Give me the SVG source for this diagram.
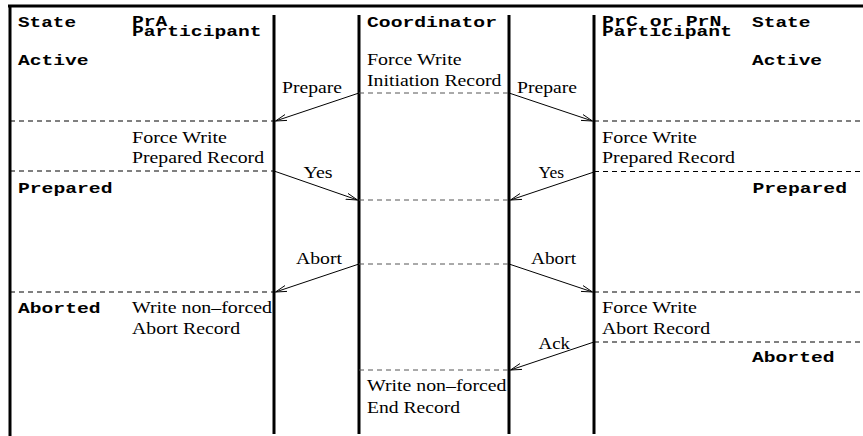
<svg xmlns="http://www.w3.org/2000/svg" width="863" height="436" viewBox="0 0 863 436">
  <style>
    .frame { stroke: #000; stroke-width: 3; fill: none; }
    .life { stroke: #000; stroke-width: 3; fill: none; }
    .dash { stroke: #000; stroke-width: 1; stroke-dasharray: 5 4; fill: none; }
    .dash.coord { stroke: #555; }
    .msg { stroke: #000; stroke-width: 1; fill: none; marker-end: url(#open); }
    .mono { font-weight: bold; font-size: 14px; fill: #000; }
    .serif { font-size: 16px; fill: #000; }
  </style>
  <defs>
    <marker id="open" viewBox="0 0 12 8" refX="11.5" refY="4" markerWidth="12" markerHeight="8" markerUnits="userSpaceOnUse" orient="auto">
      <path d="M0,0.8 L11.5,4 L0,7.2" fill="none" stroke="#000" stroke-width="0.9"/>
    </marker>
  </defs>

  <!-- outer frame: top rule and left edge -->
  <g id="frame">
    <line class="frame" x1="8" y1="6" x2="863" y2="6"/>
    <line class="frame" x1="10" y1="5" x2="10" y2="436"/>
  </g>

  <!-- state column, left -->
  <g id="state-left" font-family="'Liberation Mono', 'Courier New', monospace">
    <text class="mono" x="18" y="26.5" textLength="58" lengthAdjust="spacingAndGlyphs">State</text>
    <text class="mono" x="18" y="64.5" textLength="70.5" lengthAdjust="spacingAndGlyphs">Active</text>
    <text class="mono" x="18" y="193" textLength="94.5" lengthAdjust="spacingAndGlyphs">Prepared</text>
    <text class="mono" x="18" y="313" textLength="82.5" lengthAdjust="spacingAndGlyphs">Aborted</text>
  </g>

  <!-- PrA participant -->
  <g id="pra-participant">
    <g font-family="'Liberation Mono', 'Courier New', monospace">
      <text class="mono" x="132" y="26" textLength="35.4" lengthAdjust="spacingAndGlyphs">PrA</text>
      <text class="mono" x="132" y="36" textLength="129.5" lengthAdjust="spacingAndGlyphs">Participant</text>
    </g>
    <line class="life" x1="274" y1="15" x2="274" y2="434"/>
    <g font-family="'Liberation Serif', 'Times New Roman', serif">
      <text class="serif" x="132" y="143" textLength="95" lengthAdjust="spacingAndGlyphs">Force Write</text>
      <text class="serif" x="132" y="163" textLength="132" lengthAdjust="spacingAndGlyphs">Prepared Record</text>
      <text class="serif" x="132" y="313" textLength="140" lengthAdjust="spacingAndGlyphs">Write non–forced</text>
      <text class="serif" x="132" y="333.5" textLength="108" lengthAdjust="spacingAndGlyphs">Abort Record</text>
    </g>
    <line class="dash" x1="10" y1="121" x2="274" y2="121"/>
    <line class="dash" x1="10" y1="171" x2="274" y2="171"/>
    <line class="dash" x1="10" y1="292" x2="274" y2="292"/>
  </g>

  <!-- Coordinator -->
  <g id="coordinator">
    <text class="mono" font-family="'Liberation Mono', 'Courier New', monospace" x="367" y="26.5" textLength="130" lengthAdjust="spacingAndGlyphs">Coordinator</text>
    <line class="life" x1="359" y1="15" x2="359" y2="434"/>
    <line class="life" x1="509" y1="15" x2="509" y2="434"/>
    <g font-family="'Liberation Serif', 'Times New Roman', serif">
      <text class="serif" x="367" y="64.5" textLength="94.5" lengthAdjust="spacingAndGlyphs">Force Write</text>
      <text class="serif" x="367" y="85.5" textLength="134.5" lengthAdjust="spacingAndGlyphs">Initiation Record</text>
      <text class="serif" x="367" y="390.5" textLength="139.5" lengthAdjust="spacingAndGlyphs">Write non–forced</text>
      <text class="serif" x="367" y="412.5" textLength="93" lengthAdjust="spacingAndGlyphs">End Record</text>
    </g>
    <line class="dash coord" x1="359" y1="93" x2="509" y2="93"/>
    <line class="dash coord" x1="359" y1="200" x2="509" y2="200"/>
    <line class="dash coord" x1="359" y1="264" x2="509" y2="264"/>
    <line class="dash coord" x1="359" y1="370" x2="509" y2="370"/>
  </g>

  <!-- PrC or PrN participant -->
  <g id="prc-prn-participant">
    <g font-family="'Liberation Mono', 'Courier New', monospace">
      <text class="mono" x="602" y="26" textLength="119.5" lengthAdjust="spacingAndGlyphs">PrC or PrN</text>
      <text class="mono" x="602" y="36" textLength="130" lengthAdjust="spacingAndGlyphs">Participant</text>
    </g>
    <line class="life" x1="594" y1="15" x2="594" y2="434"/>
    <g font-family="'Liberation Serif', 'Times New Roman', serif">
      <text class="serif" x="602" y="143" textLength="95" lengthAdjust="spacingAndGlyphs">Force Write</text>
      <text class="serif" x="602" y="163" textLength="133" lengthAdjust="spacingAndGlyphs">Prepared Record</text>
      <text class="serif" x="602" y="313" textLength="95" lengthAdjust="spacingAndGlyphs">Force Write</text>
      <text class="serif" x="602" y="333.5" textLength="108" lengthAdjust="spacingAndGlyphs">Abort Record</text>
    </g>
    <line class="dash" x1="594" y1="121" x2="863" y2="121"/>
    <line class="dash" x1="594" y1="171.5" x2="863" y2="171.5"/>
    <line class="dash" x1="594" y1="292" x2="863" y2="292"/>
    <line class="dash" x1="594" y1="342" x2="863" y2="342"/>
  </g>

  <!-- state column, right -->
  <g id="state-right" font-family="'Liberation Mono', 'Courier New', monospace">
    <text class="mono" x="752" y="26.5" textLength="58.5" lengthAdjust="spacingAndGlyphs">State</text>
    <text class="mono" x="752" y="64.5" textLength="70" lengthAdjust="spacingAndGlyphs">Active</text>
    <text class="mono" x="752.5" y="193" textLength="94.5" lengthAdjust="spacingAndGlyphs">Prepared</text>
    <text class="mono" x="752" y="361.5" textLength="82.5" lengthAdjust="spacingAndGlyphs">Aborted</text>
  </g>

  <!-- messages -->
  <g id="connectors">
    <line class="msg" x1="359" y1="93" x2="275.5" y2="121"/>
    <line class="msg" x1="509" y1="93" x2="592.5" y2="121"/>
    <line class="msg" x1="274" y1="171" x2="357.5" y2="200"/>
    <line class="msg" x1="594" y1="172" x2="510.5" y2="200"/>
    <line class="msg" x1="359" y1="264" x2="275.5" y2="292"/>
    <line class="msg" x1="509" y1="264" x2="592.5" y2="292"/>
    <line class="msg" x1="594" y1="342" x2="510.5" y2="370"/>
    <g font-family="'Liberation Serif', 'Times New Roman', serif">
      <text class="serif" x="282" y="93" textLength="60" lengthAdjust="spacingAndGlyphs">Prepare</text>
      <text class="serif" x="517" y="93" textLength="60" lengthAdjust="spacingAndGlyphs">Prepare</text>
      <text class="serif" x="303.5" y="177.5" textLength="29" lengthAdjust="spacingAndGlyphs">Yes</text>
      <text class="serif" x="538.5" y="177.5" font-size="14" textLength="25.5" lengthAdjust="spacingAndGlyphs">Yes</text>
      <text class="serif" x="296" y="264" textLength="46" lengthAdjust="spacingAndGlyphs">Abort</text>
      <text class="serif" x="531" y="264" textLength="45" lengthAdjust="spacingAndGlyphs">Abort</text>
      <text class="serif" x="538.5" y="348.5" textLength="31.5" lengthAdjust="spacingAndGlyphs">Ack</text>
    </g>
  </g>
</svg>
